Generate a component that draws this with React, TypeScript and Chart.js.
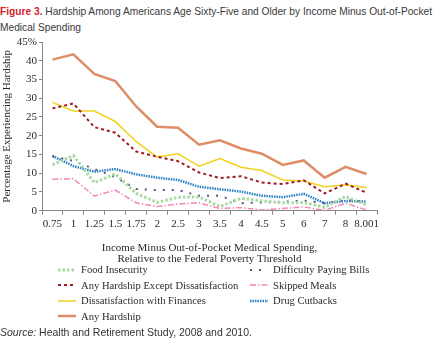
import React, { useEffect, useRef } from "react";
import { Chart, registerables } from "chart.js";

Chart.register(...registerables);

const categories = ["0.75", "1", "1.25", "1.5", "1.75", "2", "2.5", "3", "3.5", "4", "4.5", "5", "6", "7", "8", "8.001"];

const foodInsecurity = [12.2, 14.7, 7.5, 9.8, 4.6, 2.2, 3.6, 3.7, 1.1, 3.3, 2.6, 2.1, 2.2, 0.9, 3.8, 1.5];
const difficultyPayingBills = [14.5, 13.3, 11.1, 9.0, 5.8, 5.5, 5.5, 4.0, 4.0, 2.0, 2.2, 2.4, 2.7, 2.0, 2.9, 2.4];
const anyExceptDissatisfaction = [27.3, 28.6, 22.3, 20.8, 15.8, 14.4, 13.2, 10.2, 8.7, 9.2, 7.5, 7.1, 8.1, 4.6, 7.2, 4.8];
const skippedMeals = [8.4, 8.5, 3.9, 5.5, 2.1, 1.1, 1.8, 2.1, 0.6, 0.8, 0.2, 0.6, 1.0, 0.1, 2.0, 0.2];
const dissatisfactionFinances = [28.9, 26.6, 26.6, 23.8, 18.4, 14.3, 15.2, 11.9, 13.9, 11.6, 10.7, 8.2, 7.9, 6.4, 6.9, 6.2];
const drugCutbacks = [14.6, 11.9, 10.4, 11.1, 9.7, 8.8, 8.2, 6.4, 5.7, 5.1, 4.0, 3.6, 4.5, 2.0, 2.6, 2.4];
const anyHardship = [40.3, 41.7, 36.5, 34.6, 27.8, 22.4, 22.1, 17.6, 18.8, 16.6, 15.2, 12.2, 13.4, 8.8, 11.7, 9.8];

const yTicks = [0, 5, 10, 15, 20, 25, 30, 35, 40, 45];

const SERIF = "'Liberation Serif', 'Times New Roman', serif";
const SANS = "'Liberation Sans', Arial, sans-serif";
const TXT = "#2a2a2a";

type S = { label: string; data: number[]; color: string; width: number; dash: number[] };

const series: S[] = [
  { label: "Food Insecurity", data: foodInsecurity, color: "#a9d9a2", width: 3, dash: [2.5, 2] },
  { label: "Difficulty Paying Bills", data: difficultyPayingBills, color: "#55557f", width: 2, dash: [2, 7] },
  { label: "Any Hardship Except Dissatisfaction", data: anyExceptDissatisfaction, color: "#9e1c22", width: 2, dash: [3, 3] },
  { label: "Skipped Meals", data: skippedMeals, color: "#f28ab8", width: 1.5, dash: [6, 2, 1.5, 2] },
  { label: "Dissatisfaction with Finances", data: dissatisfactionFinances, color: "#f0d21e", width: 1.5, dash: [] },
  { label: "Drug Cutbacks", data: drugCutbacks, color: "#2d82c4", width: 2.5, dash: [1.5, 1] },
  { label: "Any Hardship", data: anyHardship, color: "#de8d67", width: 2.5, dash: [] },
];

const leftLegend = [0, 2, 4, 6];
const rightLegend = [1, 3, 5];

function LegendItem({ s }: { s: S }) {
  return (
    <div style={{ display: "flex", alignItems: "center", height: 15.5, whiteSpace: "nowrap" }}>
      <svg width={20} height={6} style={{ marginRight: 4 }}>
        <line x1={1} y1={3} x2={19} y2={3} stroke={s.color} strokeWidth={s.width} strokeDasharray={s.dash.length ? s.dash.join(" ") : undefined} />
      </svg>
      <span>{s.label}</span>
    </div>
  );
}

export default function App() {
  const ref = useRef<HTMLCanvasElement | null>(null);
  useEffect(() => {
    document.body.style.margin = "0";
    if (!ref.current) return;
    const chart = new Chart(ref.current, {
      type: "line",
      data: {
        labels: categories,
        datasets: series.map((s) => ({
          label: s.label,
          data: s.data,
          borderColor: s.color,
          backgroundColor: s.color,
          borderWidth: s.width,
          borderDash: s.dash,
          pointRadius: 0,
          tension: 0,
          fill: false,
        })),
      },
      options: {
        animation: false,
        responsive: false,
        maintainAspectRatio: false,
        layout: { padding: { top: 12, right: 63, left: 0, bottom: 0 } },
        plugins: { legend: { display: false }, tooltip: { enabled: false }, title: { display: false } },
        scales: {
          x: {
            type: "category",
            offset: true,
            grid: { drawOnChartArea: false, offset: true, tickLength: 4, color: "#888", tickColor: "#888" },
            border: { color: "#888", width: 1 },
            ticks: { color: TXT, font: { family: SERIF, size: 11, weight: "normal" }, padding: 3, maxRotation: 0, autoSkip: false },
            title: {
              display: true,
              text: ["Income Minus Out-of-Pocket Medical Spending,", "Relative to the Federal Poverty Threshold"],
              color: TXT,
              font: { family: SERIF, size: 11, weight: "normal", lineHeight: 1.0 },
              padding: { top: 5, bottom: 0 },
            },
            afterFit: (scale: any) => { scale.height = 54.3; },
          },
          y: {
            min: 0,
            max: 45,
            afterBuildTicks: (scale: any) => { scale.ticks = yTicks.map((v) => ({ value: v })); },
            grid: { drawOnChartArea: false, tickLength: 3, color: "#888", tickColor: "#888" },
            border: { color: "#888", width: 1 },
            ticks: {
              color: TXT,
              font: { family: SERIF, size: 11, weight: "normal" },
              padding: 2,
              callback: (v: any) => (v === 45 ? "45%" : String(v)),
            },
            title: {
              display: true,
              text: "Percentage Experiencing Hardship",
              color: TXT,
              font: { family: SERIF, size: 11, weight: "normal" },
              padding: { top: 1, bottom: 0 },
            },
            afterFit: (scale: any) => { scale.width = 42; },
          },
        },
      },
    } as any);
    return () => chart.destroy();
  }, []);

  return (
    <div style={{ position: "relative", width: 440, height: 339, overflow: "hidden", background: "#fff" }}>
      <div style={{ position: "absolute", left: 0, top: 4, width: 440, fontFamily: SANS, fontSize: 10.2, lineHeight: "16px", color: "#3a3a3a", whiteSpace: "nowrap" }}>
        <span style={{ color: "#d2232a", fontWeight: "bold" }}>Figure 3.</span> Hardship Among Americans Age Sixty-Five and Older by Income Minus Out-of-Pocket
        <br />
        Medical Spending
      </div>
      <canvas ref={ref} width={440} height={235} style={{ position: "absolute", left: 0, top: 30, width: 440, height: 235 }} />
      <div style={{ position: "absolute", left: 57, top: 262, fontFamily: SERIF, fontSize: 10.6, color: TXT }}>
        {leftLegend.map((i) => <LegendItem key={i} s={series[i]} />)}
      </div>
      <div style={{ position: "absolute", left: 249, top: 262, fontFamily: SERIF, fontSize: 10.6, color: TXT }}>
        {rightLegend.map((i) => <LegendItem key={i} s={series[i]} />)}
      </div>
      <div style={{ position: "absolute", left: 0, top: 326, fontFamily: SANS, fontSize: 10.5, color: "#333" }}>
        <i>Source:</i> Health and Retirement Study, 2008 and 2010.
      </div>
    </div>
  );
}
